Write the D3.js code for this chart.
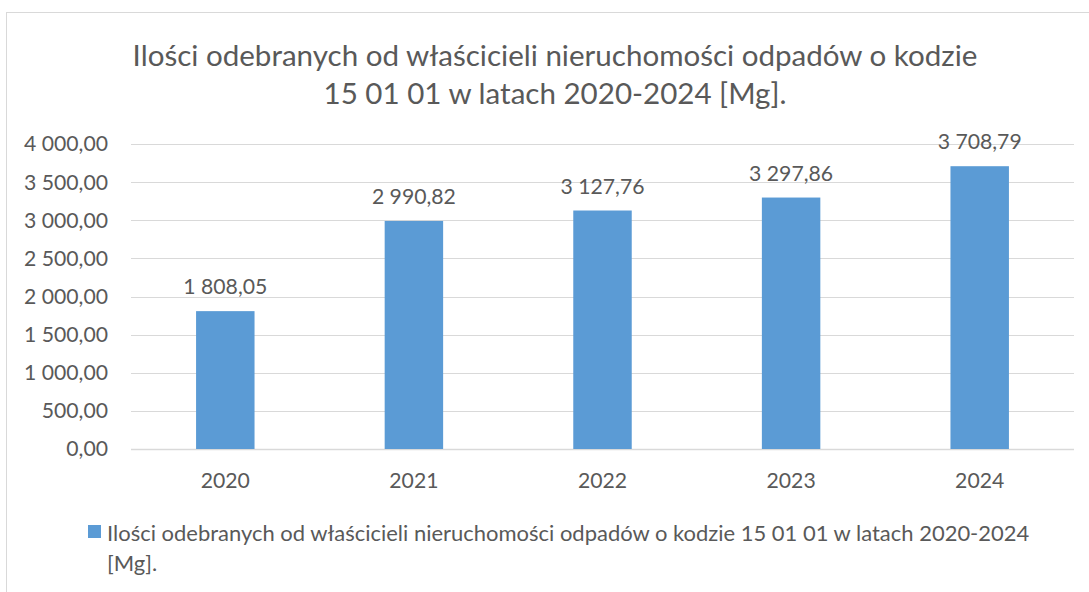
<!DOCTYPE html>
<html>
<head>
<meta charset="utf-8">
<script src="https://cdn.jsdelivr.net/npm/d3@7"></script>
<style>
  body { margin: 0; background: #fff; }
  text { font-family: Lato, "Open Sans", sans-serif; fill: #595959; }
</style>
</head>
<body>
<svg width="1089" height="592"></svg>
<script>
var years = ["2020", "2021", "2022", "2023", "2024"];
var values = [1808.05, 2990.82, 3127.76, 3297.86, 3708.79];
var yTicks = [0, 500, 1000, 1500, 2000, 2500, 3000, 3500, 4000];
var titleLines = ["Ilości odebranych od właścicieli nieruchomości odpadów o kodzie", "15 01 01 w latach 2020-2024 [Mg]."];
var legendLines = ["Ilości odebranych od właścicieli nieruchomości odpadów o kodzie 15 01 01 w latach 2020-2024", "[Mg]."];

var svg = d3.select("svg");

// font size that makes a sample string about a given width
function fitSize(str, width, base) {
  var t = svg.append("text").style("font-size", base + "px").text(str);
  var w = t.node().getComputedTextLength();
  t.remove();
  return base * width / w;
}

var titleSize = fitSize(titleLines[0], 845, 25);
var legendSize = fitSize(legendLines[0], 923, 18);
var labelSize = fitSize("4 000,00", 84, 18);

// outer frame
svg.append("rect")
    .attr("x", 6.5).attr("y", 12.5)
    .attr("width", 1100).attr("height", 600)
    .attr("fill", "none")
    .attr("stroke", "#d9d9d9");

var plotLeft = 131, plotRight = 1074, plotTop = 144, plotBottom = 449;

var x = d3.scaleBand().domain(years).range([plotLeft, plotRight]).paddingInner(0.69).paddingOuter(0.345);
var y = d3.scaleLinear().domain([0, 4000]).range([plotBottom, plotTop]);

// space thousands, comma decimal
var pl = d3.formatLocale({ decimal: ",", thousands: " ", grouping: [3], currency: ["", ""] });
var fmt = pl.format(",.2f");

// gridlines
svg.append("g")
  .selectAll("line")
  .data(yTicks)
  .enter().append("line")
    .attr("x1", plotLeft).attr("x2", plotRight)
    .attr("y1", function(d) { return Math.round(y(d)) + 0.5; })
    .attr("y2", function(d) { return Math.round(y(d)) + 0.5; })
    .attr("stroke", "#d9d9d9")
    .attr("stroke-width", function(d) { return d === 0 ? 1.5 : 1; });

// y labels
svg.append("g")
  .selectAll("text")
  .data(yTicks)
  .enter().append("text")
    .attr("x", 108)
    .attr("y", function(d) { return y(d); })
    .attr("dy", "0.35em")
    .attr("text-anchor", "end")
    .style("font-size", labelSize + "px")
    .text(function(d) { return fmt(d); });

// bars
svg.append("g")
  .selectAll("rect")
  .data(values)
  .enter().append("rect")
    .attr("x", function(d, i) { return x(years[i]); })
    .attr("width", x.bandwidth())
    .attr("y", function(d) { return y(d); })
    .attr("height", function(d) { return y(0) - y(d); })
    .attr("fill", "#5b9bd5");

// data labels
svg.append("g")
  .selectAll("text")
  .data(values)
  .enter().append("text")
    .attr("x", function(d, i) { return x(years[i]) + x.bandwidth() / 2; })
    .attr("y", function(d) { return y(d) - 17; })
    .attr("text-anchor", "middle")
    .style("font-size", labelSize + "px")
    .text(function(d) { return fmt(d); });

// x labels
svg.append("g")
  .selectAll("text")
  .data(years)
  .enter().append("text")
    .attr("x", function(d) { return x(d) + x.bandwidth() / 2; })
    .attr("y", 488)
    .attr("text-anchor", "middle")
    .style("font-size", labelSize + "px")
    .text(function(d) { return d; });

// title
svg.append("g")
  .selectAll("text")
  .data(titleLines)
  .enter().append("text")
    .attr("x", 555)
    .attr("y", function(d, i) { return 66 + i * 38; })
    .attr("text-anchor", "middle")
    .style("font-size", titleSize + "px")
    .text(function(d) { return d; });

// legend
svg.append("rect")
    .attr("x", 88).attr("y", 525)
    .attr("width", 13).attr("height", 13)
    .attr("fill", "#5b9bd5");

svg.append("g")
  .selectAll("text")
  .data(legendLines)
  .enter().append("text")
    .attr("x", 107)
    .attr("y", function(d, i) { return 541 + i * 30; })
    .style("font-size", legendSize + "px")
    .text(function(d) { return d; });
</script>
</body>
</html>
